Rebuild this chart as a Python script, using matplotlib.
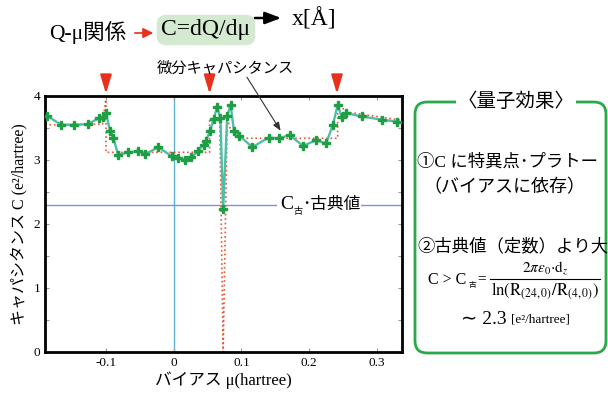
import matplotlib
matplotlib.use("Agg")
import matplotlib.pyplot as plt
from matplotlib.patches import FancyBboxPatch, FancyArrowPatch, Rectangle
import numpy as np

plt.rcParams['font.family'] = ['Liberation Serif', 'Noto Sans CJK JP', 'DejaVu Sans']
plt.rcParams['mathtext.fontset'] = 'stix'

# ---- data ----
bias = [-0.187, -0.166, -0.147, -0.127, -0.111, -0.105, -0.100, -0.094, -0.089,
        -0.082, -0.067, -0.052, -0.042, -0.023, -0.003, 0.006, 0.017, 0.026,
        0.036, 0.044, 0.047, 0.054, 0.059, 0.064, 0.069, 0.073, 0.079, 0.084,
        0.089, 0.097, 0.116, 0.140, 0.156, 0.171, 0.191, 0.210, 0.225, 0.235,
        0.242, 0.248, 0.255, 0.278, 0.307, 0.329]
cap = [3.69, 3.55, 3.55, 3.56, 3.65, 3.67, 3.73, 3.46, 3.34,
       3.08, 3.12, 3.14, 3.09, 3.20, 3.06, 3.03, 3.00, 3.04,
       3.14, 3.24, 3.29, 3.46, 3.64, 3.83, 3.65, 2.23, 3.69, 3.86,
       3.45, 3.38, 3.20, 3.35, 3.34, 3.39, 3.22, 3.31, 3.26, 3.55,
       3.86, 3.67, 3.73, 3.68, 3.63, 3.60]
step_x = [-0.19, -0.105, -0.100, -0.100, 0.053, 0.053, 0.068, 0.073, 0.079,
          0.084, 0.099, 0.242, 0.242, 0.255, 0.337]
step_y = [3.55, 3.56, 3.98, 3.12, 3.12, 3.62, 3.62, 0.0, 3.65,
          3.47, 3.34, 3.34, 3.88, 3.75, 3.62]
classical = 2.3
arrow_x = [-0.100, 0.053, 0.241]
xticks = [-0.1, 0, 0.1, 0.2, 0.3]
xticklabels = ['-0.1', '0', '0.1', '0.2', '0.3']
yticks = [0, 1, 2, 3, 4]

W, H = 608, 394
def P(x, y):
    return (x / W, 1 - y / H)

fig = plt.figure(figsize=(6.08, 3.94), dpi=100)
ax = fig.add_axes([45 / W, 1 - 352 / H, 357 / W, 256 / H])
ax.set_xlim(-0.19, 0.337)
ax.set_ylim(0, 4)

ax.axvline(0, color='#5ab4d6', lw=1.0, zorder=1)
ax.axhline(classical, color='#8090e0', lw=1.0, zorder=1)
ax.plot(step_x, step_y, color='#ee5533', ls=':', lw=1.2, zorder=2)
ax.plot(bias, cap, color='#4dbfa8', lw=1.7, zorder=3)
ax.plot(bias, cap, ls='none', marker='P', ms=5.5, color='#1f9e45', mec='#1f9e45', zorder=4)

for s in ax.spines.values():
    s.set_linewidth(2)
ax.set_xticks(xticks)
ax.set_xticklabels(xticklabels)
ax.set_yticks(yticks)
ax.set_yticks([0.5, 1.5, 2.5, 3.5], minor=True)
ax.tick_params(which='both', direction='in', top=True, right=True, labelsize=9.5,
               length=3, width=0.8, color='#999999')
ax.set_xlabel('バイアス μ(hartree)', fontsize=12, labelpad=2)
ax.set_ylabel('キャパシタンス C (e²/hartree)', fontsize=11.5, labelpad=4)

# red arrows
for xa in arrow_x:
    ax.annotate('', xy=(xa, 3.99), xytext=(xa, 4.29), annotation_clip=False,
                arrowprops=dict(arrowstyle='-|>,head_width=0.24,head_length=0.8',
                                color='#e8301c', lw=1.6, mutation_scale=14))

# classical value label
ax.add_patch(Rectangle((0.152, 2.17), 0.125, 0.26, facecolor='white', edgecolor='none', zorder=5))
ax.text(0.158, classical, 'C', fontsize=14, va='center', ha='left', zorder=6)
ax.text(0.177, classical - 0.1, '古', fontsize=6.5, va='center', ha='left', zorder=6)
ax.text(0.190, classical, '･古典値', fontsize=12, va='center', ha='left', zorder=6)

# differential capacitance annotation
ax.annotate('', xy=(0.160, 3.42), xytext=(0.106, 4.33), annotation_clip=False,
            arrowprops=dict(arrowstyle='-|>,head_width=0.2,head_length=0.5',
                            color='#333333', lw=0.8, mutation_scale=10))
fig.text(*P(225, 68), '微分キャパシタンス', fontsize=11, ha='center', va='center')

# top texts
fig.text(*P(88, 33), 'Q-μ関係', fontsize=15.5, ha='center', va='center')
fig.add_artist(FancyArrowPatch(P(132, 33), P(156, 33), transform=fig.transFigure,
                               arrowstyle='-|>,head_width=0.25,head_length=0.5',
                               mutation_scale=12, color='#e8301c', lw=1.2))
fig.text(*P(206, 30), 'C=dQ/dμ', fontsize=17, ha='center', va='center',
         bbox=dict(boxstyle='round,pad=0.2,rounding_size=0.4', facecolor='#d3ead0', edgecolor='none'))
fig.add_artist(FancyArrowPatch(P(252, 18), P(284, 18), transform=fig.transFigure,
                               arrowstyle='-|>,head_width=0.3,head_length=0.8',
                               mutation_scale=12, color='black', lw=1.8))
fig.text(*P(314, 19), 'x[Å]', fontsize=17, ha='center', va='center')

# right panel
bx0, by0, bx1, by1 = 415, 102, 606, 353
box = FancyBboxPatch(P(bx0, by1), (bx1 - bx0) / W, (by1 - by0) / H,
                     boxstyle='round,pad=0,rounding_size=0.02', mutation_aspect=W / H,
                     transform=fig.transFigure, facecolor='none', edgecolor='#2aa84a', lw=2)
fig.add_artist(box)
fig.text(*P(516, 102), '〈量子効果〉', fontsize=14, ha='center', va='center',
         bbox=dict(facecolor='white', edgecolor='none', pad=1))
fig.text(*P(417, 162), '①C に特異点･プラトー', fontsize=12.5, ha='left', va='center')
fig.text(*P(423, 188), '（バイアスに依存）', fontsize=13, ha='left', va='center')
fig.text(*P(417, 247), '②古典値（定数）より大', fontsize=12.5, ha='left', va='center')

fig.text(*P(428, 280), 'C > C', fontsize=11.5, ha='left', va='center')
fig.text(*P(472, 285), '古', fontsize=5.5, ha='center', va='center')
fig.text(*P(482, 279), '=', fontsize=11, ha='center', va='center')
fig.add_artist(plt.Line2D([P(490, 0)[0], P(600, 0)[0]], [P(0, 279)[1]] * 2,
                          transform=fig.transFigure, color='black', lw=0.8))
fig.text(*P(545, 268), r'$2\pi\varepsilon_0{\cdot}\mathrm{d}_z$', fontsize=11, ha='center', va='center')
fig.text(*P(545, 291), r'$\mathrm{ln(R}_{(24,0)}\mathrm{/R}_{(4,0)}\mathrm{)}$', fontsize=12,
         ha='center', va='center')
fig.text(*P(461, 320), '∼ 2.3', fontsize=14, ha='left', va='center')
fig.text(*P(511, 320), '[e²/hartree]', fontsize=9.5, ha='left', va='center')

fig.savefig('out.png', dpi=100)
